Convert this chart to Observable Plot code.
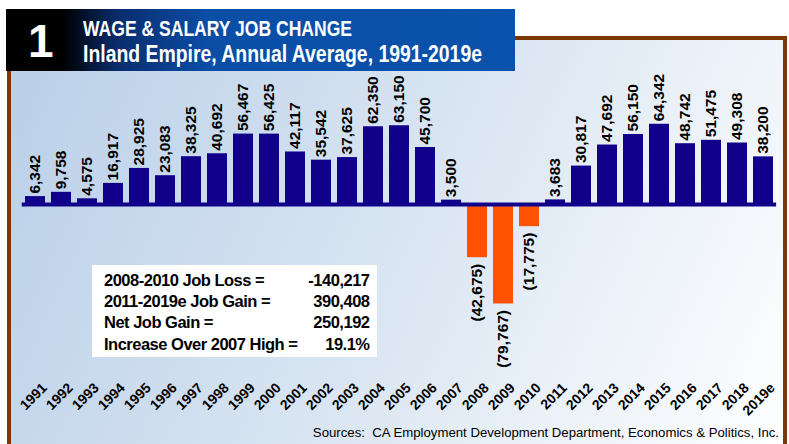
<!DOCTYPE html>
<html><head><meta charset="utf-8">
<script src="https://cdn.jsdelivr.net/npm/d3@7"></script>
<script src="https://cdn.jsdelivr.net/npm/@observablehq/plot@0.6"></script>
<style>
body{margin:0;background:#fff;}
#wrap{position:relative;width:789px;height:444px;overflow:hidden;font-family:"Liberation Sans",Arial,sans-serif;}
#frame{position:absolute;left:7px;top:36px;width:772px;height:420px;border:4px solid #7c3706;border-bottom:none;background:linear-gradient(115deg,#b9cfe8 0%,#d9e5f2 50%,#ffffff 100%);}
#chart{position:absolute;left:0;top:0;}
#chart svg{background:transparent !important;}
#over{position:absolute;left:0;top:0;pointer-events:none;}
</style>
</head><body>
<div id="wrap">
  <div id="frame"></div>
  <div id="chart"></div>
  <svg id="over" width="789" height="444"></svg>
</div>
<script>
const years = ["1991","1992","1993","1994","1995","1996","1997","1998","1999","2000","2001","2002","2003","2004","2005","2006","2007","2008","2009","2010","2011","2012","2013","2014","2015","2016","2017","2018","2019e"];
const jobChange = [6342, 9758, 4575, 16917, 28925, 23083, 38325, 40692, 56467, 56425, 42117, 35542, 37625, 62350, 63150, 45700, 3500, -42675, -79767, -17775, 3683, 30817, 47692, 56150, 64342, 48742, 51475, 49308, 38200];
const titleNumber = "1";
const titleLine1 = "WAGE & SALARY JOB CHANGE";
const titleLine2 = "Inland Empire, Annual Average, 1991-2019e";
const summaryLabels = ["2008-2010 Job Loss =", "2011-2019e Job Gain =", "Net Job Gain =", "Increase Over 2007 High ="];
const summaryValues = ["-140,217", "390,408", "250,192", "19.1%"];
const sourceText = "Sources:  CA Employment Development Department, Economics & Politics, Inc.";

const NAVY = "#10008a", ORANGE = "#ff5200";
const data = years.map((year, i) => ({year, value: jobChange[i]}));
const pos = data.filter(d => d.value >= 0);
const neg = data.filter(d => d.value < 0);
const fmt = d3.format(",");

const chart = Plot.plot({
  width: 789,
  height: 444,
  marginLeft: 15.7,
  marginRight: 6.9,
  marginTop: 41,
  marginBottom: 64,
  style: {background: "transparent", fontFamily: "'Liberation Sans', Arial, sans-serif", color: "#000"},
  x: {domain: years, paddingInner: 0.24, paddingOuter: 0.24, axis: null, label: null},
  y: {domain: [-141139, 130714], axis: null},
  marks: [
    Plot.barY(pos, {x: "year", y: "value", fill: NAVY}),
    Plot.barY(neg, {x: "year", y: "value", fill: ORANGE}),
    Plot.ruleY([0], {stroke: NAVY, strokeWidth: 4, insetLeft: 6, insetRight: 6}),
    Plot.text(pos, {x: "year", y: "value", text: d => fmt(d.value), rotate: -90, textAnchor: "start", dy: -3, fontSize: 15.5, fontWeight: "bold", fill: "#000"}),
    Plot.text(neg, {x: "year", y: "value", text: d => "(" + fmt(-d.value) + ")", rotate: -90, textAnchor: "end", dy: 6, fontSize: 15.5, fontWeight: "bold", fill: "#000"}),
    Plot.axisX({tickRotate: -45, tickSize: 0, tickPadding: 5, dx: 9, fontSize: 14, fontWeight: "bold", fill: "#000", label: null})
  ]
});
document.getElementById("chart").appendChild(chart);

// overlay: header, summary box, source
const over = d3.select("#over");
const defs = over.append("defs");
const g1 = defs.append("linearGradient").attr("id", "hdr").attr("x1", 0).attr("x2", 1).attr("y1", 0).attr("y2", 0);
g1.append("stop").attr("offset", "0").attr("stop-color", "#000");
g1.append("stop").attr("offset", "0.11").attr("stop-color", "#000");
g1.append("stop").attr("offset", "0.22").attr("stop-color", "#0a2d6e");
g1.append("stop").attr("offset", "0.40").attr("stop-color", "#0a4ea6");
g1.append("stop").attr("offset", "1").attr("stop-color", "#0a52ab");
over.append("rect").attr("x", 6).attr("y", 9).attr("width", 509).attr("height", 62).attr("fill", "url(#hdr)");
over.append("text").attr("x", 28).attr("y", 57).attr("fill", "#fff").attr("font-size", 46).attr("font-weight", "bold")
  .attr("font-family", "'Liberation Sans', Arial, sans-serif").text(titleNumber);
over.append("text").attr("x", 83).attr("y", 36).attr("fill", "#fff").attr("font-size", 22).attr("font-weight", "bold")
  .attr("textLength", 269).attr("lengthAdjust", "spacingAndGlyphs")
  .attr("font-family", "'Liberation Sans', Arial, sans-serif").text(titleLine1);
over.append("text").attr("x", 83).attr("y", 62).attr("fill", "#fff").attr("font-size", 23).attr("font-weight", "bold")
  .attr("textLength", 399).attr("lengthAdjust", "spacingAndGlyphs")
  .attr("font-family", "'Liberation Sans', Arial, sans-serif").text(titleLine2);

over.append("rect").attr("x", 92).attr("y", 265).attr("width", 285).attr("height", 92).attr("fill", "#fff");
summaryLabels.forEach((lab, i) => {
  const y = 285.7 + i * 21.3;
  over.append("text").attr("x", 104).attr("y", y).attr("font-size", 16.5).attr("font-weight", "bold")
    .attr("letter-spacing", -0.5).attr("font-family", "'Liberation Sans', Arial, sans-serif").text(lab);
  over.append("text").attr("x", 369.5).attr("y", y).attr("font-size", 16.5).attr("font-weight", "bold")
    .attr("text-anchor", "end").attr("letter-spacing", -0.5).attr("font-family", "'Liberation Sans', Arial, sans-serif").text(summaryValues[i]);
});
over.append("text").attr("x", 779).attr("y", 437).attr("font-size", 13.2).attr("text-anchor", "end")
  .attr("font-family", "'Liberation Sans', Arial, sans-serif").style("white-space", "pre").text(sourceText);
</script>
</body></html>
